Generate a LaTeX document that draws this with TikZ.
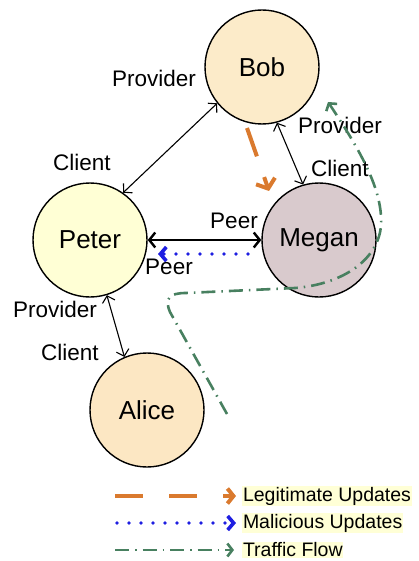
\documentclass[tikz,border=0pt]{standalone}
\usepackage{fontspec}
\setmainfont{Liberation Sans}
\usetikzlibrary{arrows.meta,calc}
\definecolor{cBob}{RGB}{252,235,201}
\definecolor{cPeter}{RGB}{255,255,213}
\definecolor{cMegan}{RGB}{217,202,205}
\definecolor{cAlice}{RGB}{252,231,195}
\definecolor{cOrange}{RGB}{218,122,46}
\definecolor{cBlue}{RGB}{30,30,225}
\definecolor{cGreen}{RGB}{72,128,96}
\definecolor{cHigh}{RGB}{255,255,214}
\begin{document}
\begin{tikzpicture}[x=1pt,y=-1pt,
  peernode/.style={circle, draw=black, line width=1.4pt, minimum size=114pt, inner sep=0pt, font=\fontsize{26}{30}\selectfont},
  lab/.style={font=\fontsize{22.5}{27}\selectfont, inner sep=0pt},
  rel/.style={line width=1.1pt, {Straight Barb[length=6pt,width=13pt]}-{Straight Barb[length=6pt,width=13pt]}},
  peerrel/.style={line width=2.4pt, {Straight Barb[length=6pt,width=15pt]}-{Straight Barb[length=6pt,width=15pt]}},
  legit/.style={draw=cOrange, line width=4pt, dash pattern=on 28pt off 26pt, -{Straight Barb[length=6pt,width=15pt]}},
  bigtip/.style={-{Straight Barb[length=8pt,width=20pt]}},
  malic/.style={draw=cBlue, line width=3.6pt, line cap=round, dash pattern=on 0pt off 12pt, -{Straight Barb[length=6pt,width=14pt]}},
  traffic/.style={draw=cGreen, line width=2.6pt, dash pattern=on 14pt off 6pt on 1.5pt off 6pt, -{Straight Barb[length=5pt,width=13pt]}},
  legtext/.style={anchor=west, fill=cHigh, inner sep=0.8pt, font=\fontsize{19.5}{23}\selectfont}]
\useasboundingbox (0,0) rectangle (418,561);

% nodes
\node[peernode, fill=cBob] (Bob) at (262,67) {Bob};
\node[peernode, fill=cPeter] (Peter) at (90,240) {Peter};
\node[peernode, fill=cMegan] (Megan) at (319,240) {Megan};
\node[peernode, fill=cAlice] (Alice) at (147,410) {Alice};

% relationships
\draw[rel] (Bob.219) -- (Peter.55);
\draw[rel] (Bob.-75) -- (Megan.106);
\draw[peerrel] (Peter.east) -- (Megan.west);
\draw[rel] (Peter.-73) -- (Alice.113);

% labels
\node[lab] (lpb) at (154,78) {Provider};
\node[lab] (lcp) at (82,162) {Client};
\node[lab] (lpm) at (340,125) {Provider};
\node[lab] (lcm) at (340,168) {Client};
\node[lab] (lpe1) at (234,221) {Peer};
\node[lab] (lpe2) at (169,267) {Peer};
\node[lab] (lpp) at (55,309) {Provider};
\node[lab] (lca) at (70,352) {Client};

% update flows
\coordinate (o1) at (247,128);
\coordinate (o2) at (269,191);
\draw[legit, bigtip, dash pattern=on 30pt off 22pt] (o1) -- (o2);
\coordinate (b1) at (248,254);
\coordinate (b2) at (158,254);
\draw[malic] (b1) -- (b2);

% traffic flow
\coordinate (g1) at (227,414);
\coordinate (g2) at (328,102);
\draw[traffic] (g1) -- (170,312) .. controls (164,298) and (170,293) .. (186,293)
  -- (295,288) .. controls (345,284) and (379,258) .. (381,225)
  .. controls (383,190) and (360,150) .. (g2);

% legend
\coordinate (la1) at (115,496); \coordinate (la2) at (236,496);
\draw[legit] (la1) -- (la2);
\node[legtext] (t1) at (242,496) {Legitimate Updates};
\coordinate (lb1) at (117,523); \coordinate (lb2) at (236,523);
\draw[malic] (lb1) -- (lb2);
\node[legtext] (t2) at (242,523) {Malicious Updates};
\coordinate (lc1) at (115,550); \coordinate (lc2) at (234,550);
\draw[traffic] (lc1) -- (lc2);
\node[legtext] (t3) at (242,550) {Traffic Flow};
\end{tikzpicture}
\end{document}
